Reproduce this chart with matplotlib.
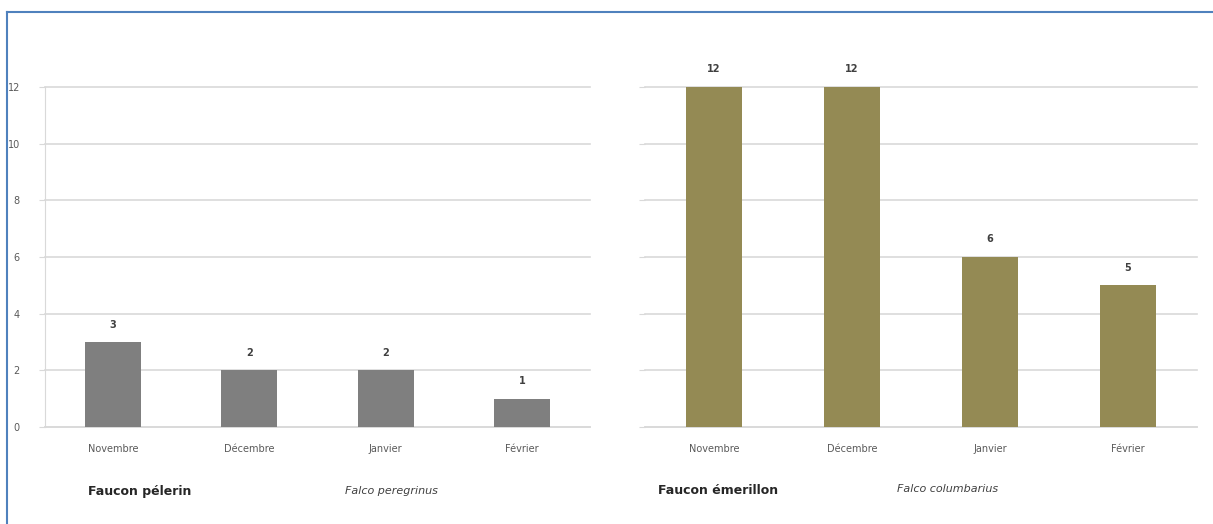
import matplotlib.pyplot as plt
from matplotlib.lines import Line2D

months = ["Novembre", "Décembre", "Janvier", "Février"]
pelerin = [3, 2, 2, 1]
emerillon = [12, 12, 6, 5]
yticks = [0, 2, 4, 6, 8, 10, 12]

W, H = 1213, 524
fig = plt.figure(figsize=(W / 100, H / 100), dpi=100)
fig.patch.set_facecolor("white")

def px(x0, y0, x1, y1):
    return [x0 / W, 1 - y1 / H, (x1 - x0) / W, (y1 - y0) / H]

def draw(ax, vals, color, show_y):
    x = range(len(months))
    bars = ax.bar(x, vals, width=0.41, color=color, zorder=3)
    ax.set_xlim(-0.5, len(months) - 0.5)
    ax.set_ylim(0, 12)
    ax.set_yticks(yticks)
    ax.yaxis.grid(True, color="#d9d9d9", linewidth=1.2, zorder=0)
    for gl in ax.get_ygridlines():
        gl.set_clip_on(False)
    ax.set_xticks(list(x))
    ax.set_xticklabels(months, fontsize=7, color="#595959")
    ax.tick_params(axis="x", length=0, pad=12)
    if show_y:
        ax.set_yticklabels([str(t) for t in yticks], fontsize=7, color="#595959")
        ax.tick_params(axis="y", length=4, color="#d9d9d9", pad=14)
        ax.spines["left"].set_color("#d9d9d9")
    else:
        ax.set_yticklabels([])
        ax.tick_params(axis="y", length=4, color="#d9d9d9")
        ax.spines["left"].set_visible(False)
    for s in ["top", "right"]:
        ax.spines[s].set_visible(False)
    ax.spines["bottom"].set_color("#d9d9d9")
    ax.spines["bottom"].set_linewidth(1.2)
    for b, v in zip(bars, vals):
        ax.annotate(str(v), (b.get_x() + b.get_width() / 2, v), xytext=(0, 9),
                    textcoords="offset points", ha="center", va="bottom",
                    fontsize=7, fontweight="bold", color="#404040")

ax1 = fig.add_axes(px(45, 87, 590, 427))
draw(ax1, pelerin, "#7f7f7f", True)
ax2 = fig.add_axes(px(645, 87, 1197, 427))
draw(ax2, emerillon, "#948a54", False)

fig.text(88 / W, 1 - 491 / H, "Faucon pélerin", fontsize=9, fontweight="bold",
         color="#262626", va="center", ha="left")
fig.text(345 / W, 1 - 491 / H, "Falco peregrinus", fontsize=8, style="italic",
         color="#404040", va="center", ha="left")
fig.text(658 / W, 1 - 491 / H, "Faucon émerillon", fontsize=9, fontweight="bold",
         color="#262626", va="center", ha="left")
fig.text(897 / W, 1 - 489 / H, "Falco columbarius", fontsize=8, style="italic",
         color="#404040", va="center", ha="left")

# frame lines (top and left)
fig.add_artist(Line2D([7 / W, 1], [1 - 12 / H, 1 - 12 / H], color="#4f81bd", linewidth=1.5))
fig.add_artist(Line2D([7 / W, 7 / W], [0, 1 - 12 / H], color="#4f81bd", linewidth=1.5))

fig.savefig("out.png", dpi=100, facecolor="white")
